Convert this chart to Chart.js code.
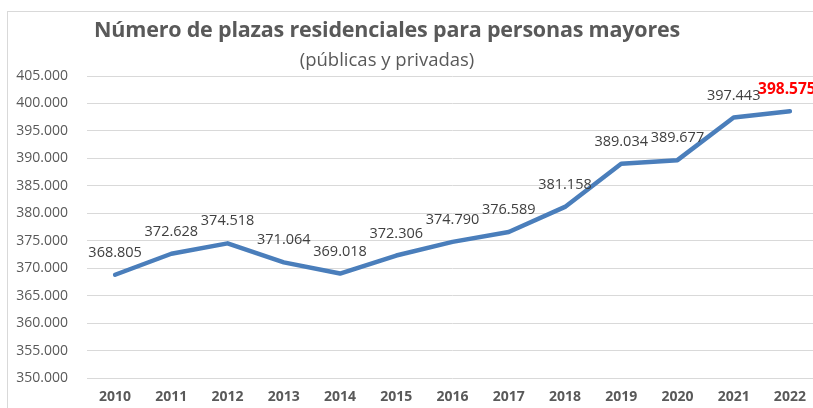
<!DOCTYPE html>
<html><head><meta charset="utf-8">
<script src="https://cdn.jsdelivr.net/npm/chart.js@4/dist/chart.umd.min.js"></script>
<style>
html,body{margin:0;padding:0;background:#fff;overflow:hidden;width:813px;height:408px;}
#frame{position:absolute;left:7px;top:11px;width:900px;height:500px;border-left:1px solid #d9d9d9;border-top:1px solid #d9d9d9;}
#wrap{position:absolute;left:0;top:0;width:830px;height:408px;}
.t{position:absolute;left:0;width:774px;text-align:center;color:#595959;white-space:nowrap;line-height:1;}
#title{top:18px;font-family:"Open Sans",sans-serif;font-size:21.5px;font-weight:bold;letter-spacing:-0.2px;}
#sub{top:50px;font-family:"Open Sans",sans-serif;font-size:18.5px;}
</style></head>
<body>
<div id="frame"></div>
<div id="wrap"><canvas id="c" width="830" height="408"></canvas></div>
<div class="t" id="title">Número de plazas residenciales para personas mayores</div>
<div class="t" id="sub">(públicas y privadas)</div>
<script>
const years = ["2010","2011","2012","2013","2014","2015","2016","2017","2018","2019","2020","2021","2022"];
const plazas = [368805,372628,374518,371064,369018,372306,374790,376589,381158,389034,389677,397443,398575];
const yMin = 350000, yMax = 405000, yStep = 5000;

function fmt(v){ return String(Math.round(v)).replace(/\B(?=(\d{3})+(?!\d))/g,"."); }

const labelPlugin = {
  id:'pointLabels',
  afterDatasetsDraw(chart){
    const ctx = chart.ctx;
    const meta = chart.getDatasetMeta(0);
    ctx.save();
    ctx.textAlign='center';
    ctx.textBaseline='middle';
    meta.data.forEach((pt,i)=>{
      const last = i===meta.data.length-1;
      ctx.font = last ? 'bold 15.5px "Open Sans", sans-serif' : '14.5px "Open Sans", sans-serif';
      ctx.fillStyle = last ? '#ff0000' : '#404040';
      ctx.fillText(fmt(plazas[i]), last ? pt.x-3 : pt.x, pt.y-22);
    });
    ctx.restore();
  }
};

new Chart(document.getElementById('c'),{
  type:'line',
  data:{labels:years,datasets:[{data:plazas,borderColor:'#4a7ebb',borderWidth:4.5,pointRadius:0,tension:0,borderJoinStyle:'round',borderCapStyle:'round',fill:false}]},
  options:{
    responsive:false,animation:false,
    layout:{padding:{left:0,right:12,top:76,bottom:0}},
    plugins:{legend:{display:false},tooltip:{enabled:false},title:{display:false}},
    scales:{
      x:{offset:true,grid:{display:false,drawTicks:false},border:{display:false},
         afterFit:s=>{s.height=30;},
         ticks:{color:'#595959',font:{family:'"Open Sans", sans-serif',size:14,weight:'bold'},padding:11,maxRotation:0,autoSkip:false}},
      y:{min:yMin,max:yMax,border:{display:false},
         afterFit:s=>{s.width=87;},
         grid:{color:'#d9d9d9',lineWidth:1,drawTicks:false},
         ticks:{stepSize:yStep,color:'#595959',font:{family:'"Open Sans", sans-serif',size:14},padding:19,callback:v=>fmt(v)}}
    }
  },
  plugins:[labelPlugin]
});
</script>
</body></html>
